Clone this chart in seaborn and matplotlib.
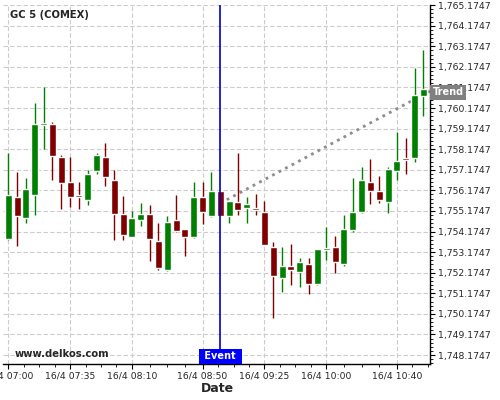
# Candlestick chart GC 5 (COMEX), 5 minute bars with event marker and trend line

import numpy as np
import matplotlib
matplotlib.use("Agg")
import matplotlib.pyplot as plt
import seaborn as sns
from matplotlib.ticker import FixedLocator, FuncFormatter

# 5 minute OHLC bars starting 16/4 07:00
opens = [1753.81, 1755.83, 1754.83, 1755.93, 1759.37, 1759.41, 1757.82, 1756.60,
         1755.93, 1755.70, 1757.10, 1757.82, 1756.70, 1755.02, 1753.91, 1754.73,
         1755.01, 1753.70, 1752.29, 1754.72, 1754.28, 1753.91, 1755.83, 1754.92,
         1756.12, 1754.92, 1755.59, 1755.30, 1755.30, 1755.10, 1753.41, 1751.92,
         1752.49, 1752.21, 1752.58, 1751.63, 1753.30, 1753.41, 1752.58, 1754.26,
         1755.12, 1756.60, 1756.12, 1755.60, 1757.10, 1757.73, 1757.73, 1760.74]
highs = [1757.99, 1757.06, 1756.78, 1760.42, 1761.19, 1759.51, 1757.90, 1757.78,
         1756.59, 1757.17, 1758.01, 1758.49, 1757.17, 1755.91, 1755.19, 1755.57,
         1755.48, 1754.60, 1754.91, 1755.93, 1754.28, 1756.60, 1756.60, 1757.07,
         1756.12, 1755.68, 1757.99, 1755.83, 1756.01, 1755.67, 1753.68, 1753.41,
         1753.59, 1752.91, 1752.91, 1753.31, 1754.41, 1753.95, 1754.99, 1756.78,
         1757.30, 1757.70, 1756.88, 1757.33, 1759.01, 1758.74, 1762.11, 1762.99]
lows = [1753.78, 1753.49, 1754.58, 1754.97, 1758.19, 1756.69, 1755.28, 1755.36,
        1755.28, 1755.48, 1756.96, 1756.40, 1753.78, 1753.78, 1753.91, 1754.42,
        1752.76, 1752.29, 1752.26, 1754.15, 1752.99, 1753.88, 1754.52, 1754.88,
        1754.92, 1754.60, 1754.99, 1754.60, 1754.99, 1753.50, 1749.98, 1751.24,
        1751.60, 1751.50, 1751.16, 1751.58, 1752.78, 1752.18, 1752.49, 1754.17,
        1755.07, 1755.49, 1755.55, 1755.07, 1756.69, 1756.98, 1757.53, 1759.77]
closes = [1755.93, 1754.92, 1756.22, 1759.41, 1759.41, 1757.83, 1756.52, 1755.84,
          1755.83, 1756.99, 1757.91, 1756.81, 1755.02, 1754.00, 1754.83, 1755.01,
          1753.81, 1752.40, 1754.62, 1754.20, 1753.91, 1755.83, 1755.12, 1756.12,
          1754.92, 1755.68, 1755.21, 1755.49, 1755.20, 1753.50, 1752.02, 1752.49,
          1752.31, 1752.68, 1751.63, 1753.31, 1753.35, 1752.68, 1754.28, 1755.10,
          1756.70, 1756.13, 1755.72, 1757.19, 1757.62, 1757.64, 1760.82, 1761.11]

# x axis labels (bar index -> time)
tick_pos = [0, 7, 14, 22, 29, 36, 44]
tick_labels = ["16/4 07:00", "16/4 07:35", "16/4 08:10", "16/4 08:50",
               "16/4 09:25", "16/4 10:00", "16/4 10:40"]

# event bar and trend line end points
event_bar = 24
trend_x = [24, 47.75]
trend_y = [1755.55, 1761.0]

# price grid
price_ticks = [1748.1747 + k for k in range(18)]

sns.set_style("white")
plt.rcParams["font.family"] = ["DejaVu Sans"]

fig = plt.figure(figsize=(5, 4), dpi=100)
ax = fig.add_axes([0.006, 0.09, 0.854, 0.8975])

o = np.array(opens)
c = np.array(closes)
idx = np.arange(len(o))
colors = np.where(c >= o, "#008000", "#800000")

# trend line under the candles
sns.lineplot(x=trend_x, y=trend_y, ax=ax, color="#8c8c8c", linewidth=2,
             linestyle=":", zorder=2)

# wicks and bodies
ax.vlines(idx, lows, highs, colors=colors, linewidth=1.0, zorder=3)
ax.bar(idx, np.maximum(np.abs(c - o), 0.09), bottom=np.minimum(o, c),
       width=0.8, color=colors, zorder=4)

# event marker
ax.axvline(event_bar, color="#0000cc", linewidth=1.2, zorder=5)

ax.set_xlim(-0.6, 47.75)
ax.set_ylim(1747.74, 1765.18)

# axes look
for side in ["left", "top"]:
    ax.spines[side].set_visible(False)
for side in ["right", "bottom"]:
    ax.spines[side].set_color("black")
    ax.spines[side].set_linewidth(1.0)

ax.yaxis.tick_right()
ax.yaxis.set_major_locator(FixedLocator(price_ticks))
ax.yaxis.set_minor_locator(FixedLocator(np.arange(1747.7747, 1765.2, 0.2)))
ax.yaxis.set_major_formatter(FuncFormatter(lambda v, p: f"{v:,.4f}"))

# minor x ticks: each labelled interval split in four
minor_x = []
for a, b in zip(tick_pos[:-1], tick_pos[1:]):
    minor_x += list(np.linspace(a, b, 5)[1:-1])
minor_x += [44 + 1.75, 44 + 3.5]
ax.set_xticks(tick_pos)
ax.set_xticklabels(tick_labels)
ax.xaxis.set_minor_locator(FixedLocator(minor_x))

ax.tick_params(which="major", direction="out", length=3.5, width=0.8,
               labelsize=6.7, color="black", pad=2)
ax.tick_params(which="minor", direction="out", length=2, width=0.6, color="black")
ax.tick_params(axis="x", which="both", bottom=True)
ax.tick_params(axis="y", which="both", right=True, left=False)

ax.grid(True, which="major", linestyle=(0, (4, 2)), color="#cccccc", linewidth=0.8)
ax.set_axisbelow(True)

ax.set_xlabel("")
ax.set_ylabel("")

# labels on the event line and trend end
ax.annotate(" Event ", xy=(event_bar, 1747.74), xytext=(0, 2),
            textcoords="offset points", ha="center", va="bottom",
            color="white", fontweight="bold", fontsize=7,
            bbox=dict(boxstyle="square,pad=0.25", fc="#0000ff", ec="none"),
            annotation_clip=False, zorder=10)
ax.annotate("Trend", xy=(1, trend_y[-1]), xycoords=("axes fraction", "data"),
            xytext=(1.8, -1), textcoords="offset points", ha="left", va="center",
            color="white", fontweight="bold", fontsize=7,
            bbox=dict(boxstyle="square,pad=0.25", fc="#808080", ec="none"),
            annotation_clip=False, zorder=10)

fig.text(10 / 500, 1 - 15 / 400, "GC 5 (COMEX)", fontsize=7.2,
         fontweight="bold", va="center", ha="left")
fig.text(15 / 500, 1 - 354 / 400, "www.delkos.com", fontsize=7.2,
         fontweight="bold", va="center", ha="left")
fig.text(217 / 500, 1 - 389 / 400, "Date", fontsize=9,
         fontweight="bold", va="center", ha="center")

fig.savefig("out.png", dpi=100)
